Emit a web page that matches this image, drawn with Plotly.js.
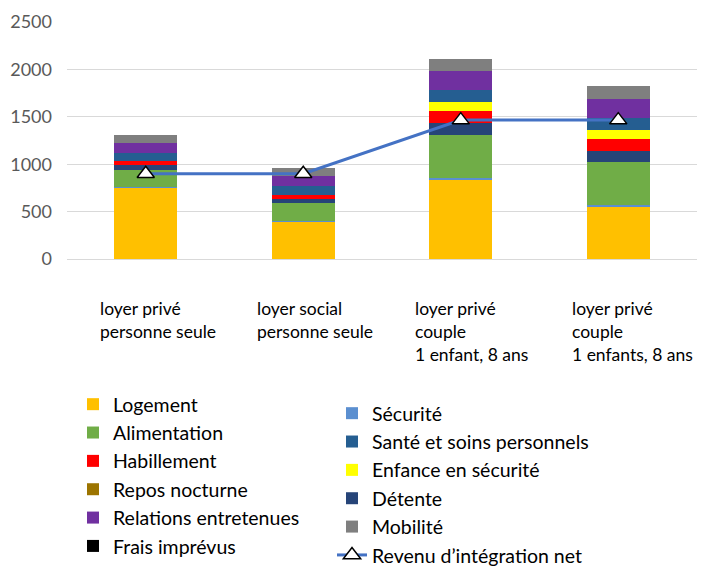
<!DOCTYPE html>
<html>
<head>
<meta charset="utf-8">
<script src="https://cdn.plot.ly/plotly-3.0.1.min.js"></script>
<style>html,body{margin:0;padding:0;background:#fff;}#chart{width:711px;height:566px;}</style>
</head>
<body>
<div id="chart"></div>
<script>
// Categories (x axis labels)
const categories = ["loyer privé<br>personne seule", "loyer social<br>personne seule", "loyer privé<br>couple<br>1 enfant, 8 ans", "loyer privé<br>couple<br>1 enfants, 8 ans"];
const catKeys = ["c1", "c2", "c3", "c4"];

// Series values (stack order bottom -> top)
const logement      = [745, 390, 835, 545];
const securite      = [12, 12, 18, 20];
const alimentation  = [184, 184, 452, 455];
const detente       = [46, 42, 130, 118];
const habillement   = [49, 52, 122, 133];
const reposNocturne = [0, 0, 0, 0];
const fraisImprevus = [0, 0, 0, 0];
const enfance       = [0, 0, 98, 94];
const sante         = [87, 87, 129, 126];
const relations     = [104, 105, 195, 198];
const mobilite      = [81, 87, 130, 139];
const revenuNet     = [900, 900, 1465, 1465];

const FONT = "Lato, 'Liberation Sans', sans-serif";

function bar(name, y, color, legend, rank) {
  return {type: "bar", name: name, x: catKeys, y: y, marker: {color: color, line: {width: 0}},
          legend: legend, legendrank: rank, legendgroup: name, hoverinfo: "skip"};
}

const traces = [
  bar("Logement", logement, "#FFC000", "legend", 1),
  bar("Sécurité", securite, "#5B8FD0", "legend2", 1),
  bar("Alimentation", alimentation, "#70AD47", "legend", 2),
  bar("Détente", detente, "#264478", "legend2", 4),
  bar("Habillement", habillement, "#FF0000", "legend", 3),
  bar("Repos nocturne", reposNocturne, "#9C7400", "legend", 4),
  bar("Frais imprévus", fraisImprevus, "#000000", "legend", 6),
  bar("Enfance en sécurité", enfance, "#FFFF00", "legend2", 3),
  bar("Santé et soins personnels", sante, "#255E91", "legend2", 2),
  bar("Relations entretenues", relations, "#7030A0", "legend", 5),
  bar("Mobilité", mobilite, "#7F7F7F", "legend2", 5),
  {type: "scatter", mode: "lines+markers", name: "Revenu d’intégration net", x: catKeys, y: revenuNet,
   line: {color: "#4472C4", width: 3},
   marker: {symbol: "triangle-up", size: 15, color: "#FFFFFF", line: {color: "#000000", width: 1.5}},
   legend: "legend2", legendrank: 6, legendgroup: "rev", hoverinfo: "skip"}
];

const annotations = categories.map((c, i) => ({
  x: catKeys[i], y: 0, xref: "x", yref: "paper", xanchor: "left", yanchor: "top",
  xshift: -48, yshift: -37, text: c, align: "left", showarrow: false,
  font: {family: FONT, size: 17.5, color: "#000000"}
}));

const legendCommon = {
  xref: "container", yref: "container", xanchor: "left", yanchor: "top",
  orientation: "v", traceorder: "grouped", tracegroupgap: 0, bgcolor: "rgba(0,0,0,0)",
  font: {family: FONT, size: 19.5, color: "#000000"}
};

const layout = {
  width: 711, height: 566,
  margin: {l: 67, r: 14, t: 22, b: 307, autoexpand: false},
  paper_bgcolor: "#FFFFFF", plot_bgcolor: "#FFFFFF",
  barmode: "stack", bargap: 0.6,
  showlegend: true,
  font: {family: FONT},
  xaxis: {type: "category", range: [-0.5, 3.5], showticklabels: false, showgrid: false, zeroline: false, showline: false, fixedrange: true},
  yaxis: {range: [0, 2500], dtick: 500, tick0: 0, showgrid: true, gridcolor: "#D9D9D9", gridwidth: 1,
          zeroline: true, zerolinecolor: "#D9D9D9", zerolinewidth: 1, showline: false,
          ticks: "", ticklabelstandoff: 14, tickfont: {family: FONT, size: 18, color: "#595959"}, fixedrange: true},
  legend: Object.assign({}, legendCommon, {x: 73 / 711, y: 1 - 385 / 566}),
  legend2: Object.assign({}, legendCommon, {x: 332 / 711, y: 1 - 394 / 566}),
  annotations: annotations
};

Plotly.newPlot("chart", traces, layout, {displayModeBar: false, staticPlot: true});
</script>
</body>
</html>
